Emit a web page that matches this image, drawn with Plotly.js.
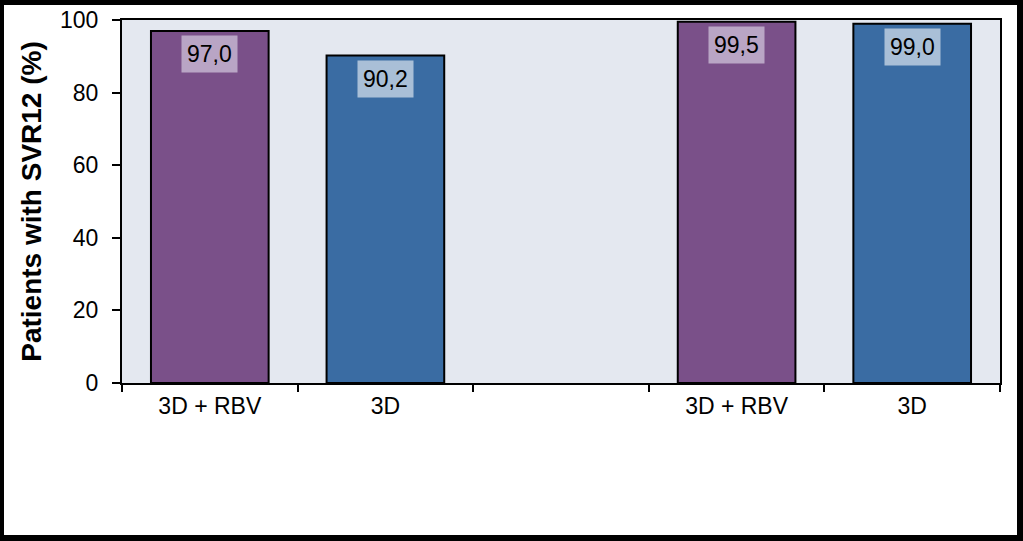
<!DOCTYPE html>
<html>
<head>
<meta charset="utf-8">
<script src="https://cdn.plot.ly/plotly-3.0.1.min.js"></script>
<style>
html,body{margin:0;padding:0;background:#fff;}
#wrap{position:relative;width:1023px;height:541px;}
#chart{width:1023px;height:541px;}
#frame{position:absolute;left:0;top:0;width:1023px;height:541px;box-sizing:border-box;border-style:solid;border-color:#000;border-width:5px 6px 6px 4px;pointer-events:none;}
</style>
</head>
<body>
<div id="wrap"><div id="chart"></div><div id="frame"></div></div>
<script>
const categories = ["3D + RBV", "3D", "", "3D + RBV", "3D"];
const values = [97.0, 90.2, null, 99.5, 99.0];
const barColors = ["#7a5089", "#3a6ca3", "#ffffff", "#7a5089", "#3a6ca3"];
const labelColors = ["#b9a5c5", "#a9bfd7", "#ffffff", "#b9a5c5", "#a9bfd7"];
const yTicks = [0, 20, 40, 60, 80, 100];
const yTitle = "Patients with SVR12 (%)";

const idx = categories.map((c, i) => i);
const boundaries = [-0.5, 0.5, 1.5, 2.5, 3.5, 4.5];

const trace = {
  type: "bar",
  x: idx,
  y: values,
  width: 0.67,
  marker: {color: barColors, line: {color: "#000", width: 2}},
  hoverinfo: "none",
  xaxis: "x",
  yaxis: "y"
};
const tickTrace = {
  type: "scatter", x: [], y: [], xaxis: "x2", yaxis: "y", hoverinfo: "none", showlegend: false
};

const annotations = [];
values.forEach((v, i) => {
  if (v === null) return;
  annotations.push({
    x: i, y: v, xref: "x", yref: "y",
    text: v.toFixed(1).replace(".", ","),
    showarrow: false, yanchor: "top", yshift: -4,
    bgcolor: labelColors[i], borderpad: 5,
    font: {family: "Arial, Liberation Sans, sans-serif", size: 23, color: "#000"}
  });
});

const font = {family: "Arial, Liberation Sans, sans-serif", size: 22, color: "#000"};
const layout = {
  width: 1023, height: 541,
  margin: {l: 122, r: 23, t: 20, b: 158},
  paper_bgcolor: "#fff",
  plot_bgcolor: "#e4e8f0",
  showlegend: false,
  font: font,
  bargap: 0,
  xaxis: {
    range: [-0.5, 4.5], tickvals: idx, ticktext: categories,
    ticks: "", showgrid: false, zeroline: false,
    showline: true, linecolor: "#000", linewidth: 2, mirror: true,
    tickfont: {family: "Arial, Liberation Sans, sans-serif", size: 23, color: "#000"},
    ticklabelstandoff: 1, fixedrange: true
  },
  xaxis2: {
    range: [-0.5, 4.5], overlaying: "x", anchor: "y", side: "bottom",
    tickvals: boundaries, showticklabels: false,
    ticks: "outside", ticklen: 8, tickwidth: 2, tickcolor: "#000",
    showgrid: false, zeroline: false, showline: false, fixedrange: true
  },
  yaxis: {
    range: [0, 100], tickvals: yTicks, ticks: "outside", ticklen: 8, tickwidth: 2,
    tickcolor: "#000", showgrid: false, zeroline: false,
    showline: true, linecolor: "#000", linewidth: 2, mirror: true,
    tickfont: {family: "Arial, Liberation Sans, sans-serif", size: 23, color: "#000"},
    ticklabelstandoff: 9,
    title: {text: yTitle, standoff: 10, font: {family: "Arial, Liberation Sans, sans-serif", size: 28, color: "#000", weight: "bold"}},
    fixedrange: true
  },
  annotations: annotations
};

Plotly.newPlot("chart", [trace, tickTrace], layout, {displayModeBar: false, staticPlot: true});
</script>
</body>
</html>
